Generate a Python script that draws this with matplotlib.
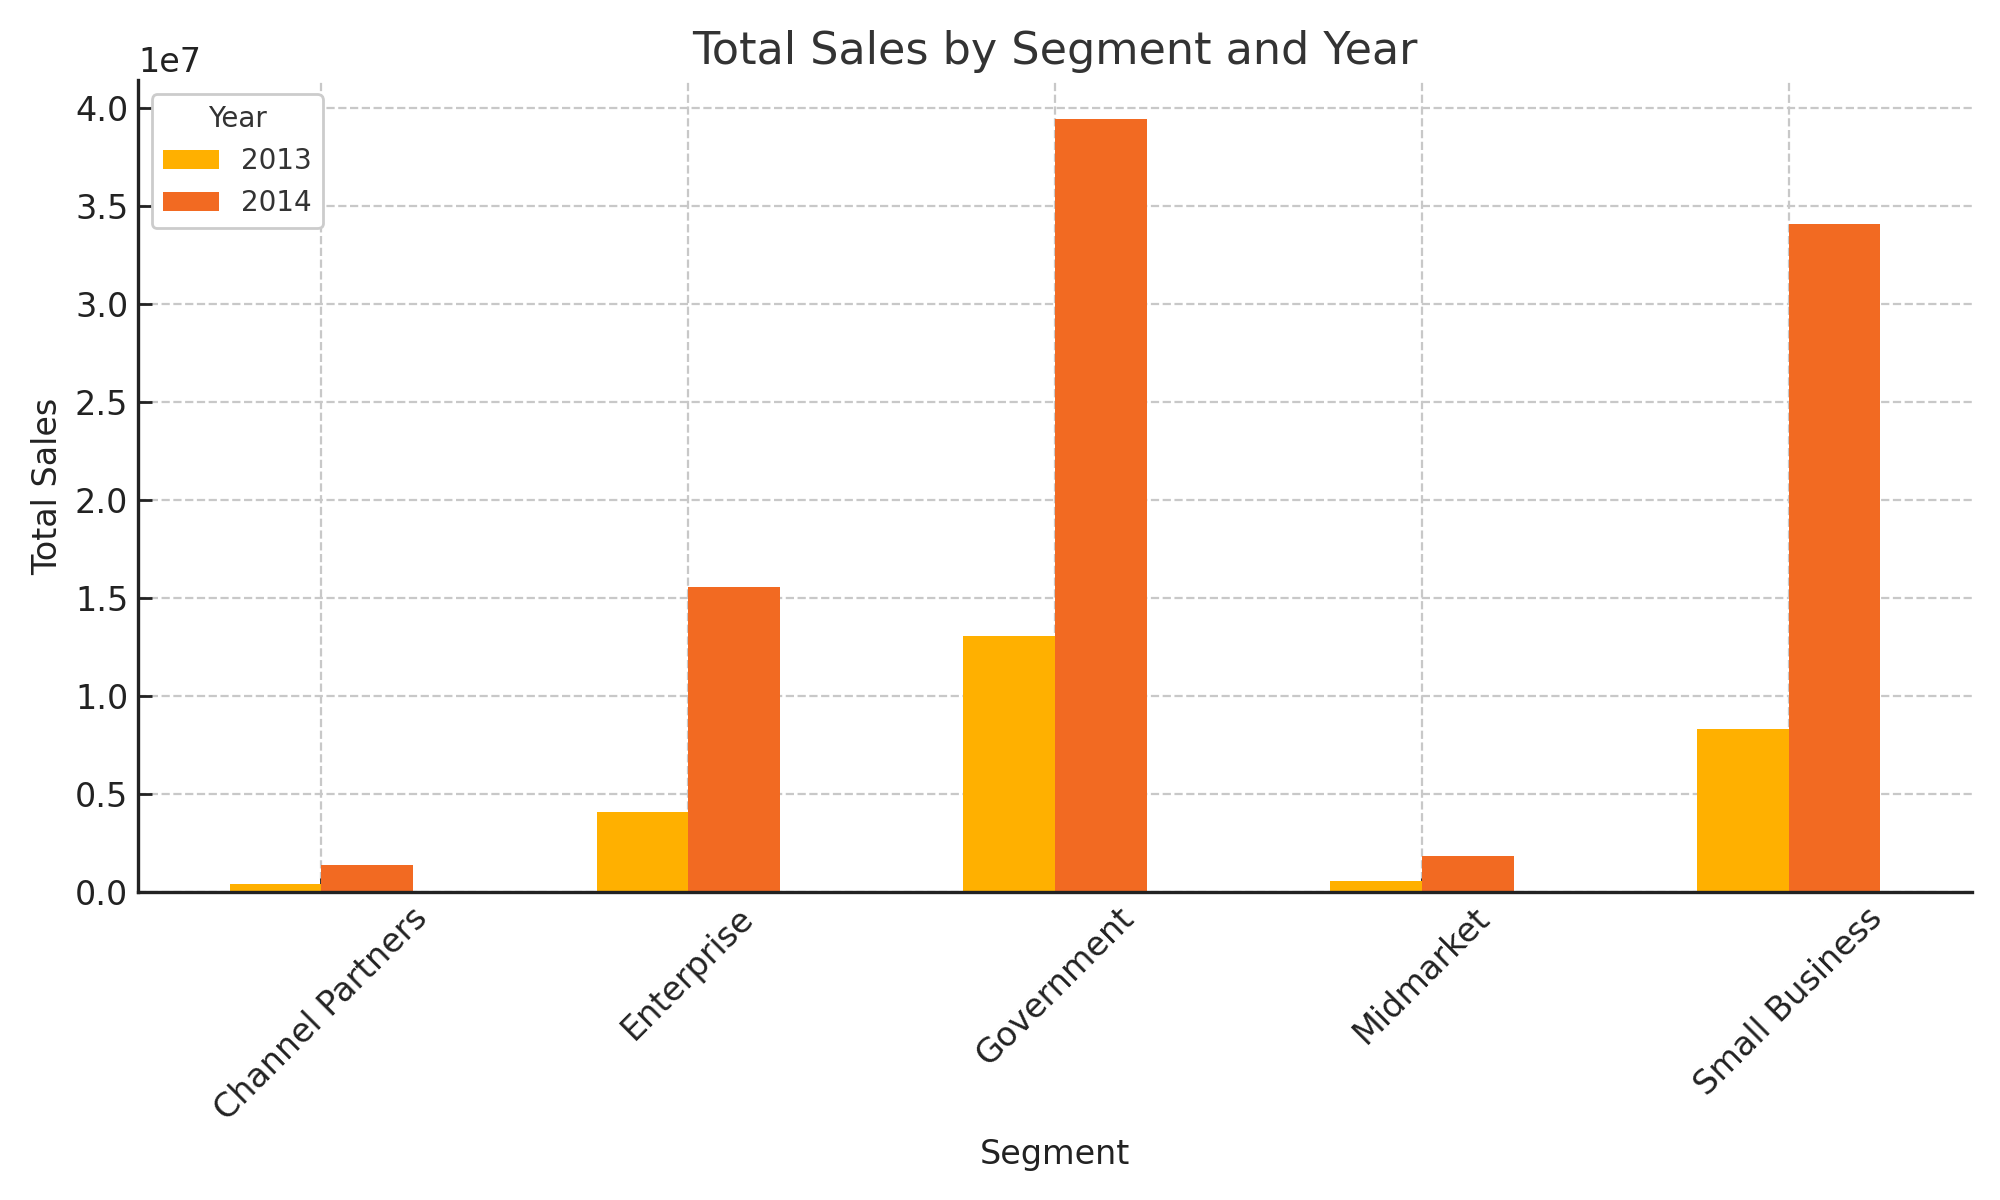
import matplotlib
matplotlib.use("Agg")
import matplotlib.pyplot as plt
import numpy as np

segments = ["Channel Partners", "Enterprise", "Government", "Midmarket", "Small Business"]
years = ["2013", "2014"]
sales_2013 = [0.40e6, 4.05e6, 13.05e6, 0.55e6, 8.30e6]
sales_2014 = [1.37e6, 15.55e6, 39.45e6, 1.82e6, 34.10e6]
colors = ["#FFB000", "#F26A22"]

plt.rcParams["font.family"] = "DejaVu Sans"
fig, ax = plt.subplots(figsize=(10, 6), dpi=200)
fig.subplots_adjust(left=0.069, right=0.986, top=0.933, bottom=0.257)

x = np.arange(len(segments))
w = 0.25
ax.bar(x - w / 2, sales_2013, width=w, color=colors[0], label=years[0], zorder=2)
ax.bar(x + w / 2, sales_2014, width=w, color=colors[1], label=years[1], zorder=2)

ax.set_xlim(-0.5, len(segments) - 0.5)
ax.set_xticks(x)
ax.set_xticklabels(segments, rotation=45, ha="center", fontsize=12, color="#222222")
ax.tick_params(axis="y", labelsize=12, labelcolor="#222222")
ax.tick_params(direction="in", length=5, width=1, colors="#222222")
ax.yaxis.get_offset_text().set_fontsize(12)

ax.set_title("Total Sales by Segment and Year", fontsize=16, color="#333333")
ax.set_xlabel("Segment", fontsize=12, color="#222222", labelpad=4)
ax.set_ylabel("Total Sales", fontsize=12, color="#222222")

ax.grid(True, linestyle="--", color="#c8c8c8", linewidth=0.8, zorder=0)
ax.set_axisbelow(True)
for s in ["top", "right"]:
    ax.spines[s].set_visible(False)
for s in ["left", "bottom"]:
    ax.spines[s].set_linewidth(1.2)
    ax.spines[s].set_color("#222222")

leg = ax.legend(title="Year", loc="upper left", fontsize=10, title_fontsize=10, framealpha=1)
for t in leg.get_texts():
    t.set_color("#333333")
leg.get_title().set_color("#333333")

fig.savefig("out.png")
